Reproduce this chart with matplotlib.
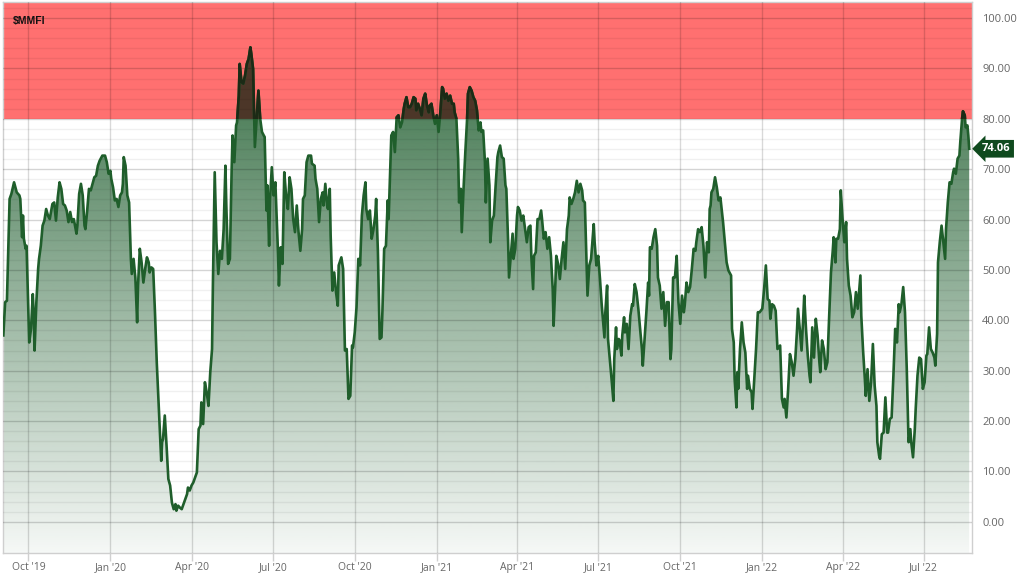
import numpy as np
import pandas as pd
import matplotlib
matplotlib.use("Agg")
import matplotlib.pyplot as plt
import matplotlib.dates as mdates
from matplotlib.patches import Polygon, Rectangle
from matplotlib.transforms import blended_transform_factory

# ---------------- data ----------------
ticker = "$MMFI"
start_date = "2019-10-01"
day_offset = [
    -28, -26, -24, -21, -19, -16, -13, -10, -9, -7, -6, -5, -3, -2, 1, 3, 5, 6, 7, 9, 11, 12, 14, 16, 18, 20, 22, 24,
    27, 29, 31, 33, 35, 37, 39, 41, 43, 45, 47, 49, 51, 54, 55, 57, 59, 61, 63, 64, 66, 68, 70, 72, 74, 76, 78, 80,
    83, 86, 88, 90, 92, 93, 95, 97, 99, 101, 103, 105, 106, 107, 109, 111, 113, 115, 116, 118, 120, 122, 123, 125,
    127, 129, 131, 133, 135, 136, 138, 140, 142, 144, 146, 148, 149, 150, 151, 153, 155, 157, 159, 161, 163, 165,
    166, 168, 170, 172, 174, 176, 178, 179, 181, 183, 185,
    189, 191, 193, 194, 196, 198, 200, 202, 204, 206, 207, 209, 211, 213, 215, 217, 219, 221, 222, 224, 226, 228,
    229, 231, 233, 234, 236, 237, 239, 241, 243, 245, 247, 249, 250, 252, 254, 256, 258, 260, 262, 264, 265, 267,
    268, 270, 271, 273, 275, 277, 279, 280, 281, 283, 285, 287, 289, 291, 293, 295, 297, 299, 301, 303, 305, 307,
    308, 310, 312, 314, 317, 318, 321, 322, 324, 326, 328, 330, 331, 333, 335, 336, 338, 339, 341, 343, 345, 347,
    348, 351, 353, 354, 355, 357, 359, 361, 363, 364, 366, 368, 370, 372, 374, 376, 378, 379, 381, 383, 385, 387,
    389, 390, 392, 394, 396, 397, 399, 401, 403, 404,
    407, 409, 411, 413, 415, 417, 419, 421, 422, 424, 426, 428, 430, 432, 434, 435, 437, 439, 441, 443, 445, 447,
    449, 450, 452, 454, 456, 458, 460, 462, 464, 465, 467, 469, 471, 473, 475, 477, 478, 480, 482, 483, 485, 486,
    488, 490, 492, 493, 495, 497, 499, 501, 503, 505, 507, 508, 510, 512, 513, 515, 517, 518, 520, 522, 524, 526,
    527, 529, 531, 533, 535, 536, 538, 539, 541, 543, 544, 546, 548, 549, 551, 553, 555, 557, 559, 561, 563, 564,
    566, 567, 569, 571, 573, 575, 576, 578, 580, 582, 584, 586, 588, 589, 591, 592, 594, 596, 598, 600, 602, 604,
    606, 607, 609, 611, 613, 615, 617, 619, 621, 622,
    624, 627, 629, 631, 634, 635, 637, 639, 641, 643, 646, 647, 649, 650, 652, 654, 656, 657, 659, 660, 662, 663,
    665, 666, 668, 669, 671, 673, 675, 677, 678, 680, 682, 684, 686, 688, 689, 691, 693, 695, 696, 697, 699, 701,
    703, 705, 706, 708, 710, 712, 714, 716, 718, 720, 721, 723, 725, 727, 729, 731, 733, 735, 736, 738, 740, 742,
    744, 746, 748, 749, 751, 753, 755, 757, 759, 761, 763, 764, 765, 766, 768, 770, 772, 774, 776, 777, 779, 781,
    783, 785, 788, 789, 791, 792, 794, 795, 796, 798, 800, 802, 804, 806, 807, 809, 811, 812, 814, 816, 818, 820,
    823, 825, 827, 829, 831, 832, 834, 836, 838, 840,
    843, 845, 847, 848, 850, 852, 854, 856, 858, 860, 862, 863, 865, 867, 869, 870, 872, 874, 876, 877, 879, 881,
    883, 885, 887, 888, 890, 892, 894, 896, 898, 900, 902, 903, 905, 906, 908, 910, 911, 913, 915, 917, 918, 920,
    922, 924, 926, 928, 930, 933, 934, 936, 938, 939, 941, 943, 945, 947, 949, 951, 952, 954, 955, 957, 959, 961,
    963, 964, 966, 968, 970, 972, 974, 976, 977, 979, 981, 983, 985, 987, 989, 990, 992, 994, 995, 997, 999, 1001,
    1003, 1005, 1007, 1008, 1010, 1012, 1014, 1016, 1017, 1019, 1020, 1022, 1024, 1026, 1028, 1029, 1031, 1033,
    1035, 1037, 1038, 1040, 1042, 1044, 1045, 1047, 1048, 1050, 1051, 1053, 1054, 1055,
]
mmfi_values = [
    37.0, 43.6, 43.9, 64.1, 65.1, 67.4, 65.4, 64.8, 64.1, 56.5, 60.8, 56.2, 54.2, 54.8, 35.6, 38.3, 45.2, 41.6, 34.0,
    43.6, 50.2, 52.2, 54.8, 58.8, 59.8, 62.1, 60.8, 60.1, 63.1, 63.4, 59.8, 64.4, 67.4, 66.1, 63.1, 62.8, 61.8, 59.5,
    61.5, 59.5, 60.1, 57.2, 58.8, 65.1, 67.1, 64.8, 58.8, 58.1, 61.8, 66.1, 65.8, 67.1, 68.4, 68.7, 70.7, 71.7, 72.7,
    72.7, 71.4, 69.1, 69.7, 68.1, 66.4, 63.8, 64.1, 62.5, 64.8, 65.4, 67.1, 72.4, 70.7, 64.8, 63.4, 52.2, 49.2, 52.2,
    48.5, 39.6, 46.9, 54.2, 51.5, 47.5, 50.2, 52.5, 51.5, 49.5, 50.5, 50.2, 41.6, 31.7, 23.7, 15.8, 12.1, 15.8, 16.4,
    21.1, 15.1, 8.5, 7.2, 3.8, 2.5, 3.5, 2.2, 3.2, 2.8, 2.5, 3.5, 4.5, 5.5, 6.8, 6.2, 7.2, 7.8,
    9.8, 18.4, 19.1, 23.7, 19.4, 27.7, 25.7, 23.0, 29.7, 34.3, 47.5, 69.4, 55.5, 49.2, 53.8, 52.2, 58.1, 70.7, 62.8,
    51.2, 52.2, 70.1, 76.7, 71.4, 78.7, 79.3, 84.6, 90.9, 87.3, 87.0, 88.6, 90.9, 91.9, 94.2, 92.9, 89.9, 74.4, 80.0,
    85.6, 80.0, 77.4, 76.7, 76.4, 61.8, 66.8, 54.8, 64.1, 70.4, 64.8, 67.4, 58.1, 53.2, 46.9, 54.5, 51.2, 69.4, 64.8,
    62.1, 68.4, 66.1, 60.1, 57.5, 62.8, 57.5, 53.8, 58.1, 64.1, 64.8, 71.4, 72.7, 72.7, 71.1, 70.7, 68.1, 66.1, 59.5,
    64.1, 65.4, 62.8, 67.1, 62.8, 62.1, 66.1, 56.8, 45.9, 49.5, 45.6, 42.9, 50.9, 52.5, 50.2, 41.6, 34.0, 34.3, 24.4,
    25.0, 35.0, 34.6, 37.6, 42.6, 52.2, 50.9, 60.8, 64.8, 67.4, 62.1, 60.1, 61.8, 56.2, 58.1, 60.8, 64.1, 53.5, 36.3,
    36.6, 41.6, 54.2, 54.8, 63.8, 60.1,
    76.7, 77.4, 73.4, 80.3, 80.7, 78.3, 79.3, 82.0, 83.0, 84.3, 82.3, 82.3, 83.0, 84.3, 84.0, 81.7, 83.0, 82.0, 80.7,
    84.0, 85.0, 82.6, 81.3, 82.6, 83.0, 80.7, 79.0, 80.7, 77.4, 81.3, 86.3, 86.0, 84.0, 85.0, 83.6, 84.6, 83.0, 83.0,
    81.3, 80.0, 72.1, 63.4, 66.1, 57.5, 66.1, 73.4, 80.0, 85.0, 86.3, 85.6, 84.3, 83.6, 81.7, 77.7, 79.3, 77.4, 77.7,
    71.4, 63.4, 72.1, 66.8, 55.5, 59.8, 60.8, 66.8, 72.4, 73.4, 74.7, 72.4, 72.1, 66.8, 66.1, 55.5, 48.5, 52.8, 57.2,
    52.2, 54.2, 60.8, 62.5, 61.8, 59.8, 60.8, 58.1, 55.5, 58.5, 58.8, 52.8, 46.2, 52.8, 53.5, 60.1, 60.1, 61.8, 60.1,
    56.2, 57.5, 54.2, 56.5, 52.8, 46.2, 38.9, 47.5, 52.8, 51.2, 48.2, 52.2, 55.5, 50.2, 58.1, 60.8, 64.4, 63.1, 64.1,
    65.4, 67.7, 65.4, 67.1, 65.8, 63.8,
    63.4, 44.9, 50.9, 52.2, 59.1, 55.5, 50.9, 52.8, 48.2, 42.9, 36.6, 41.6, 46.9, 36.3, 32.3, 28.3, 24.0, 32.3, 38.6,
    34.3, 36.3, 36.0, 33.0, 37.0, 40.6, 37.6, 39.3, 34.3, 40.9, 43.2, 42.9, 47.2, 45.6, 42.3, 38.3, 34.3, 31.0, 36.3,
    41.6, 47.5, 44.9, 54.5, 54.2, 56.5, 58.1, 54.8, 48.5, 46.9, 42.3, 45.6, 38.9, 43.6, 43.6, 32.3, 34.3, 48.5, 48.5,
    52.8, 43.6, 39.3, 44.9, 41.6, 42.9, 47.5, 45.6, 46.6, 50.2, 54.2, 53.8, 55.5, 58.1, 57.5, 58.5, 54.8, 48.5, 55.5,
    53.5, 62.1, 62.8, 65.4, 66.1, 68.4, 66.4, 63.8, 64.4, 62.8, 59.5, 55.5, 51.5, 49.9, 48.9, 38.3, 35.6, 28.3, 22.7,
    29.7, 26.4, 34.3, 39.6, 35.6, 33.6, 26.4, 29.0, 26.4, 25.7, 22.4, 28.3, 34.3, 41.6, 41.6, 42.3, 46.2, 50.9, 44.2,
    43.9, 40.3, 43.2, 42.9, 41.9, 34.3,
    35.0, 24.4, 22.7, 24.4, 20.7, 26.4, 33.3, 31.7, 29.0, 32.3, 38.3, 42.3, 38.3, 34.0, 40.9, 44.9, 38.3, 33.0, 29.0,
    27.7, 38.6, 32.6, 40.3, 37.0, 31.7, 29.7, 36.0, 34.3, 30.3, 31.7, 40.9, 49.5, 53.8, 56.5, 51.5, 56.2, 56.2, 58.1,
    65.8, 60.1, 55.5, 59.5, 52.2, 46.9, 44.9, 40.6, 41.6, 45.6, 42.3, 48.9, 40.9, 34.0, 28.3, 25.0, 30.3, 24.0, 27.7,
    35.3, 27.0, 23.0, 15.8, 13.1, 12.5, 17.4, 17.7, 24.7, 17.7, 17.7, 20.4, 20.7, 29.0, 38.3, 35.6, 43.2, 41.6, 43.2,
    46.6, 41.6, 30.3, 15.8, 18.4, 15.8, 12.8, 18.4, 22.4, 29.0, 32.6, 32.3, 26.4, 27.7, 33.0, 33.3, 38.6, 34.3, 33.6,
    32.6, 31.0, 37.3, 51.5, 55.5, 58.8, 55.5, 52.2, 58.1, 63.4, 67.4, 67.1, 69.4, 70.1, 69.1, 72.1, 72.7, 75.4, 80.0,
    81.5, 80.7, 78.3, 78.7, 76.7, 74.06,
]
overbought_level = 80
y_ticks = [0, 10, 20, 30, 40, 50, 60, 70, 80, 90, 100]
last_value_label = "74.06"

# ---------------- figure ----------------
W, H = 1024, 578
fig = plt.figure(figsize=(W / 100, H / 100), dpi=100)
fig.patch.set_facecolor("white")
ax = fig.add_axes([3 / W, 25 / H, 968.7 / W, 551 / H])

dates = pd.Timestamp(start_date) + pd.to_timedelta(day_offset, unit="D")
x = mdates.date2num(dates)
v = np.array(mmfi_values)

ymin, ymax = -6.2, 103.2
xmin = mdates.date2num(pd.Timestamp(start_date) + pd.Timedelta(days=-28.4))
xmax = mdates.date2num(pd.Timestamp(start_date) + pd.Timedelta(days=1057.8))

# red overbought band
ax.axhspan(overbought_level, ymax, color="#ff7070", zorder=0, lw=0)

# gradient fill under the curve
n = 256
levels = np.linspace(ymin, 100, n)
alpha = np.clip(0.10 + 0.0087 * levels, 0.03, 1.0)
img = np.zeros((n, 1, 4))
img[..., 0, 0] = 40 / 255
img[..., 0, 1] = 100 / 255
img[..., 0, 2] = 55 / 255
img[:, 0, 3] = alpha
im = ax.imshow(img, extent=[xmin, xmax, ymin, 100], origin="lower", aspect="auto",
               zorder=1, interpolation="bilinear")
verts = [(x[0], ymin)] + list(zip(x, v)) + [(x[-1], ymin)]
clip_poly = Polygon(verts, closed=True, facecolor="none", edgecolor="none", transform=ax.transData)
ax.add_patch(clip_poly)
im.set_clip_path(clip_poly)

# portion above overbought level (dark brown blend)
ax.fill_between(x, overbought_level, v, where=v > overbought_level, interpolate=True,
                color="#4c3628", lw=0, zorder=2)

# grid
for yv in np.arange(0, 103, 2):
    major = (yv % 10 == 0)
    ax.axhline(yv, color="black", alpha=0.17 if major else 0.06, lw=1.0, zorder=3)
quarters = pd.date_range("2019-10-01", "2022-07-01", freq="QS")
qx = mdates.date2num(quarters)
for q in qx:
    ax.axvline(q, color="black", alpha=0.15, lw=1.0, zorder=3)

# line
ax.plot(x, v, color="#1f5e2b", lw=1.9, zorder=5, solid_joinstyle="round")
dark, = ax.plot(x, v, color="#1c2a16", lw=1.9, zorder=6, solid_joinstyle="round")
clip_rect = Rectangle((xmin, overbought_level), xmax - xmin, ymax - overbought_level,
                      transform=ax.transData, facecolor="none", edgecolor="none")
ax.add_patch(clip_rect)
dark.set_clip_path(clip_rect)

ax.set_xlim(xmin, xmax)
ax.set_ylim(ymin, ymax)

# axes styling
for s in ax.spines.values():
    s.set_color("#cfcfcf")
    s.set_linewidth(1.0)

ax.set_xticks(qx)
ax.xaxis.set_major_formatter(mdates.DateFormatter("%b '%y"))
ax.tick_params(axis="x", length=6, width=1, color="#d0d0d0", pad=0.8,
               labelsize=7.5, labelcolor="#666666")
ax.yaxis.tick_right()
ax.set_yticks(y_ticks)
ax.set_yticklabels([f"{t:.2f}" for t in y_ticks])
ax.tick_params(axis="y", length=0, pad=7.5, labelsize=8, labelcolor="#666666")
for lab in ax.get_xticklabels() + ax.get_yticklabels():
    lab.set_family(["Open Sans", "DejaVu Sans"])

# ticker label
fig.text(13 / W, 1 - 21 / H, ticker, fontsize=7.5, fontweight="bold",
         family=["Liberation Sans", "DejaVu Sans"], va="center", ha="left", color="#111111")

# last value flag
tr = blended_transform_factory(fig.transFigure, ax.transData)
ax.text(982 / W, mmfi_values[-1], last_value_label, transform=tr, fontsize=8, fontweight="bold",
        color="white", va="center", ha="left", family=["Open Sans", "DejaVu Sans"], zorder=10,
        bbox=dict(boxstyle="larrow,pad=0.3", fc="#0f4a1e", ec="none"), clip_on=False)

fig.savefig("out.png", dpi=100, facecolor="white")
